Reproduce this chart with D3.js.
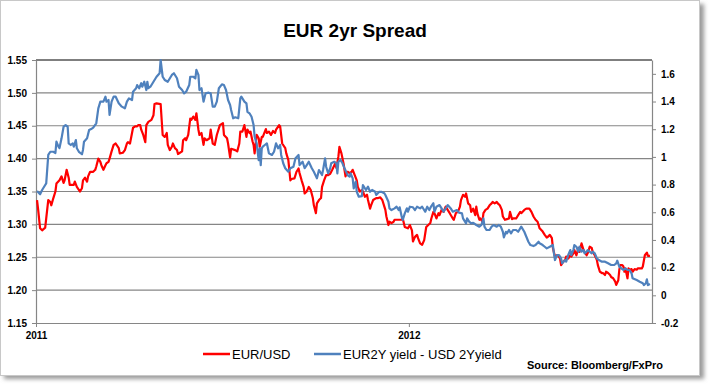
<!DOCTYPE html>
<html><head><meta charset="utf-8">
<script src="https://cdn.jsdelivr.net/npm/d3@7"></script>
<style>
html,body{margin:0;padding:0;background:#fff;}
svg{display:block;font-family:"Liberation Sans",Arial,sans-serif;}
</style></head>
<body><svg id="c" width="710" height="384"></svg>
<script>
const title = "EUR 2yr Spread";
const seriesNames = ["EUR/USD", "EUR2Y yield - USD 2Yyield"];
const sourceText = "Source: Bloomberg/FxPro";
const startDate = "2011-01-01";
const spanDays = 603;
const xTickYears = [2011, 2012];
const leftTicks = [1.15,1.20,1.25,1.30,1.35,1.40,1.45,1.50,1.55];
const rightTicks = [-0.2,0,0.2,0.4,0.6,0.8,1,1.2,1.4,1.6];

// day offsets from 2011-01-01
const redDays = [1,2,4,6,9,10,12,14,15,17,19,20,23,25,27,28,30,32,33,37,38,40,43,45,46,48,50,51,53,56,58,59,61,63,64,66,68,69,71,72,74,76,78,81,82,85,87,89,90,92,94,95,97,99,100,102,103,105,107,108,110,113,115,116,118,122,124,126,128,129,131,133,134,136,138,139,143,144,146,147,149,151,152,154,156,157,159,160,162,164,165,167,170,171,173,175,177,180,183,184,187,188,190,191,195,197,199,200,202,204,206,207,209,210,212,213,214,216,218,219,221,222,225,226,228,230,232,234,235,238,239,241,244,245,247,249,250,253,255,257,258,260,262,263,265,267,269,271,272,274,275,277,279,280,282,284,286,288,290,293,294,296,297,299,301,303,305,307,309,310,312,314,315,317,319,320,322,324,325,327,328,330,333,335,337,339,341,342,343,345,346,348,350,351,353,356,358,359,361,364,366,368,369,371,373,374,376,378,380,382,384,386,387,389,390,392,394,395,397,399,401,403,405,408,409,411,413,415,416,418,420,421,423,425,426,428,430,431,432,434,435,437,438,440,442,444,446,447,449,451,452,454,456,457,459,461,463,464,466,467,470,472,474,475,478,480,483,485,487,489,491,493,496,498,500,501,503,505,506,508,510,511,513,514,516,518,519,521,523,524,526,527,529,531,532,534,536,537,539,540,542,544,545,547,549,550,552,554,555,557,558,560,562,563,565,567,568,570,571,572,574,575,576,577,579,580,581,583,584,586,588,589,593,594,596,598,599,601];
const redValues = [1.337,1.324,1.294,1.291,1.295,1.309,1.337,1.334,1.329,1.340,
1.350,1.362,1.367,1.373,1.363,1.367,1.383,1.371,1.360,1.360,
1.365,1.357,1.350,1.355,1.367,1.371,1.365,1.373,1.380,1.380,
1.383,1.388,1.400,1.395,1.390,1.383,1.390,1.393,1.395,1.400,
1.411,1.421,1.423,1.416,1.408,1.409,1.413,1.423,1.425,1.423,
1.439,1.447,1.449,1.449,1.451,1.451,1.444,1.436,1.425,1.451,
1.456,1.459,1.466,1.483,1.484,1.483,1.436,1.433,1.439,1.421,
1.413,1.418,1.423,1.416,1.413,1.407,1.411,1.428,1.431,1.428,
1.436,1.461,1.459,1.464,1.459,1.469,1.444,1.436,1.439,1.421,
1.431,1.428,1.431,1.444,1.423,1.421,1.436,1.451,1.454,1.436,
1.431,1.423,1.402,1.415,1.413,1.411,1.423,1.441,1.441,1.451,
1.433,1.444,1.439,1.441,1.426,1.421,1.408,1.436,1.431,1.418,
1.433,1.433,1.445,1.439,1.441,1.436,1.442,1.439,1.444,1.451,
1.449,1.423,1.416,1.408,1.398,1.367,1.369,1.370,1.380,1.385,
1.378,1.367,1.357,1.347,1.350,1.357,1.352,1.340,1.329,1.317,
1.332,1.337,1.340,1.357,1.367,1.375,1.375,1.377,1.383,1.393,
1.386,1.403,1.418,1.408,1.393,1.373,1.380,1.378,1.380,1.383,
1.375,1.367,1.357,1.350,1.352,1.350,1.342,1.345,1.337,1.324,
1.329,1.337,1.340,1.340,1.341,1.337,1.327,1.322,1.312,1.299,
1.304,1.302,1.304,1.307,1.307,1.307,1.307,1.309,1.296,1.294,
1.299,1.291,1.274,1.281,1.284,1.279,1.271,1.269,1.276,1.296,
1.299,1.302,1.309,1.319,1.317,1.309,1.317,1.314,1.322,1.319,
1.327,1.322,1.317,1.309,1.307,1.317,1.319,1.327,1.337,1.345,
1.342,1.347,1.332,1.329,1.319,1.324,1.314,1.327,1.317,1.307,
1.309,1.304,1.317,1.322,1.324,1.329,1.332,1.334,1.332,1.334,
1.332,1.329,1.322,1.312,1.307,1.308,1.309,1.319,1.308,1.309,
1.309,1.314,1.319,1.317,1.322,1.324,1.324,1.319,1.312,1.307,
1.304,1.294,1.289,1.284,1.280,1.281,1.284,1.279,1.264,1.251,
1.253,1.253,1.248,1.238,1.243,1.246,1.251,1.248,1.253,1.251,
1.256,1.261,1.253,1.264,1.258,1.271,1.261,1.258,1.253,1.256,
1.266,1.264,1.258,1.253,1.246,1.238,1.228,1.226,1.226,1.223,
1.228,1.226,1.223,1.220,1.218,1.213,1.208,1.215,1.231,1.238,
1.238,1.236,1.228,1.233,1.218,1.233,1.231,1.232,1.228,1.232,
1.231,1.233,1.233,1.236,1.253,1.257,1.252,1.252];

const blueDays = [1,2,4,6,9,10,12,14,17,19,20,22,23,25,27,29,31,32,34,36,37,39,40,42,45,46,47,50,52,54,56,59,61,63,66,68,69,71,72,74,76,78,81,84,87,89,91,94,95,98,99,101,103,104,106,108,109,110,112,115,118,121,122,124,126,129,133,135,138,140,143,145,147,150,151,154,156,157,159,160,162,164,166,169,171,173,175,177,179,182,184,186,188,190,191,193,195,198,200,201,204,206,207,209,211,213,214,216,218,219,220,221,222,224,226,228,231,233,235,237,239,240,242,244,247,249,252,254,257,258,261,263,265,267,270,272,275,277,280,281,283,284,286,288,289,292,294,295,296,298,300,302,305,307,308,310,311,313,314,316,319,320,323,325,327,329,332,333,336,338,341,342,345,346,348,351,353,355,356,358,359,361,363,364,366,369,371,373,376,378,381,383,385,387,389,390,392,395,397,399,402,403,406,408,412,414,417,418,421,422,424,426,428,431,434,436,438,439,441,444,446,448,451,453,455,457,458,460,461,463,465,467,470,472,475,478,480,482,484,487,489,492,493,496,498,500,503,506,507,508,510,512,514,515,518,519,521,523,524,526,527,529,531,532,534,536,537,539,540,542,544,545,547,549,551,554,557,560,563,566,568,569,571,573,575,577,579,581,583,584,588,591,594,595,597,598,599,601];
const blueValues = [0.753,0.746,0.730,0.761,0.797,0.809,1.014,1.037,1.037,1.028,
1.110,1.074,1.064,1.134,1.218,1.230,1.218,1.098,1.086,1.098,
1.074,1.122,1.062,1.037,1.019,1.050,1.110,1.134,1.194,1.201,
1.211,1.243,1.351,1.399,1.399,1.435,1.399,1.411,1.303,1.399,
1.435,1.435,1.387,1.363,1.351,1.399,1.423,1.411,1.471,
1.496,1.519,1.496,1.532,1.507,1.543,1.483,1.543,1.496,1.507,
1.543,1.579,1.604,1.700,1.579,1.556,1.543,1.592,1.604,1.568,
1.507,1.483,1.459,1.471,1.519,1.579,1.579,1.568,1.628,1.592,
1.483,1.496,1.399,1.459,1.464,1.459,1.363,1.363,1.399,1.496,
1.524,1.519,1.483,1.411,1.375,1.339,1.279,1.286,1.279,1.423,
1.435,1.399,1.387,1.326,1.315,1.290,1.230,1.146,1.098,0.977,
1.062,0.941,1.062,1.074,1.086,1.098,1.026,1.014,1.037,1.098,
1.062,1.086,1.014,0.954,0.918,0.893,0.918,0.929,0.990,1.014,
0.941,0.965,0.918,0.941,0.965,0.918,0.893,0.845,0.905,0.869,
0.905,0.990,0.929,0.881,0.918,0.954,0.965,0.954,0.881,0.965,
0.978,0.954,0.918,0.869,0.857,0.881,0.845,0.773,0.821,0.748,
0.712,0.717,0.797,0.761,0.785,0.748,0.761,0.748,0.725,0.748,
0.748,0.737,0.725,0.676,0.628,0.616,0.628,0.640,0.616,0.636,
0.568,0.544,0.592,0.628,0.604,0.640,0.636,0.616,0.640,0.628,
0.640,0.604,0.640,0.616,0.645,0.665,0.604,0.640,0.652,0.628,
0.604,0.640,0.652,0.628,0.604,0.616,0.597,0.592,0.556,0.520,
0.556,0.532,0.520,0.524,0.508,0.496,0.508,0.556,0.496,0.472,
0.472,0.496,0.508,0.496,0.508,0.496,0.459,0.419,0.459,0.448,
0.472,0.448,0.472,0.472,0.459,0.496,0.459,0.423,0.387,0.363,
0.356,0.363,0.387,0.376,0.363,0.351,0.339,0.351,0.363,0.303,
0.255,0.291,0.291,0.267,0.231,0.255,0.243,0.291,0.327,0.291,
0.327,0.363,0.351,0.315,0.351,0.315,0.327,0.303,0.315,0.327,
0.315,0.303,0.315,0.303,0.267,0.255,0.243,0.243,0.231,0.219,
0.219,0.231,0.250,0.207,0.195,0.183,0.195,0.183,0.183,0.159,
0.123,0.110,0.098,0.087,0.074,0.087,0.115,0.074,0.082];

const svg = d3.select("#c");
const L = 36, R = 652, T = 60, B = 323;
const t0 = d3.utcParse("%Y-%m-%d")(startDate);

// frame with shadow
const defs = svg.append("defs");
const f = defs.append("filter").attr("id","sh").attr("x","-5%").attr("y","-5%").attr("width","115%").attr("height","115%");
f.append("feGaussianBlur").attr("stdDeviation",2.2);
svg.append("rect").attr("x",4).attr("y",4).attr("width",700).attr("height",375).attr("fill","#9a9a9a").attr("filter","url(#sh)");
svg.append("rect").attr("x",0.5).attr("y",0.5).attr("width",699).attr("height",375).attr("fill","#fff").attr("stroke","#c8c8c8");

const x = d3.scaleUtc().domain([t0, d3.utcDay.offset(t0, spanDays)]).range([L, R]);
const yL = d3.scaleLinear().domain([1.15, 1.55]).range([B, T]);
const yR = d3.scaleLinear().domain([-0.2, 1.7]).range([B, T]);

// gridlines
svg.append("g").selectAll("line").data(leftTicks.slice(1)).join("line")
  .attr("x1", L).attr("x2", R).attr("y1", d => yL(d)).attr("y2", d => yL(d))
  .attr("stroke", (d,i,a) => i === a.length-1 ? "#000" : "#868686").attr("stroke-width", 1.2);

const styleAxis = g => {
  g.select(".domain").attr("stroke","#868686").attr("stroke-width",1.2);
  g.selectAll(".tick line").attr("stroke","#868686");
  g.selectAll("text").attr("font-size",10).attr("font-weight","bold").attr("fill","#000")
   .attr("font-family","'Liberation Sans',Arial,sans-serif");
};

svg.append("g").attr("transform",`translate(${L},0)`)
  .call(d3.axisLeft(yL).tickValues(leftTicks).tickFormat(d3.format(".2f")).tickSize(4).tickPadding(5).tickSizeOuter(0))
  .call(styleAxis);
svg.append("g").attr("transform",`translate(${R},0)`)
  .call(d3.axisRight(yR).tickValues(rightTicks).tickFormat(d => String(d)).tickSize(4).tickPadding(5).tickSizeOuter(0))
  .call(styleAxis);
svg.append("g").attr("transform",`translate(0,${B})`)
  .call(d3.axisBottom(x).tickValues(xTickYears.map(yv => new Date(Date.UTC(yv,0,1)))).tickFormat(d3.utcFormat("%Y")).tickSize(4).tickPadding(5).tickSizeOuter(0))
  .call(styleAxis);

const toPts = (days, vals) => days.slice(0, Math.min(days.length, vals.length)).map((d,i) => ({date: d3.utcDay.offset(t0, d), v: vals[i]}));
const redPts = toPts(redDays, redValues);
const bluePts = toPts(blueDays, blueValues);

svg.append("path").datum(redPts).attr("fill","none").attr("stroke","#ff0000").attr("stroke-width",2.2)
  .attr("stroke-linejoin","round")
  .attr("d", d3.line().x(d => x(d.date)).y(d => yL(d.v)));
svg.append("path").datum(bluePts).attr("fill","none").attr("stroke","#4f81bd").attr("stroke-width",2.2)
  .attr("stroke-linejoin","round")
  .attr("d", d3.line().x(d => x(d.date)).y(d => yR(d.v)));

// title
svg.append("text").attr("x",355).attr("y",37).attr("text-anchor","middle")
  .attr("font-size",19).attr("font-weight","bold").text(title);

// legend
const leg = [{x:203, c:"#ff0000", name:seriesNames[0]}, {x:314, c:"#4f81bd", name:seriesNames[1]}];
const lg = svg.append("g");
leg.forEach(l => {
  lg.append("line").attr("x1",l.x).attr("x2",l.x+27).attr("y1",354).attr("y2",354).attr("stroke",l.c).attr("stroke-width",2.5);
  lg.append("text").attr("x",l.x+29).attr("y",359).attr("font-size",13).text(l.name);
});
svg.append("text").attr("x",527).attr("y",369).attr("font-size",11.5).attr("font-weight","bold")
  .attr("textLength",136).attr("lengthAdjust","spacingAndGlyphs").text(sourceText);
</script></body></html>
